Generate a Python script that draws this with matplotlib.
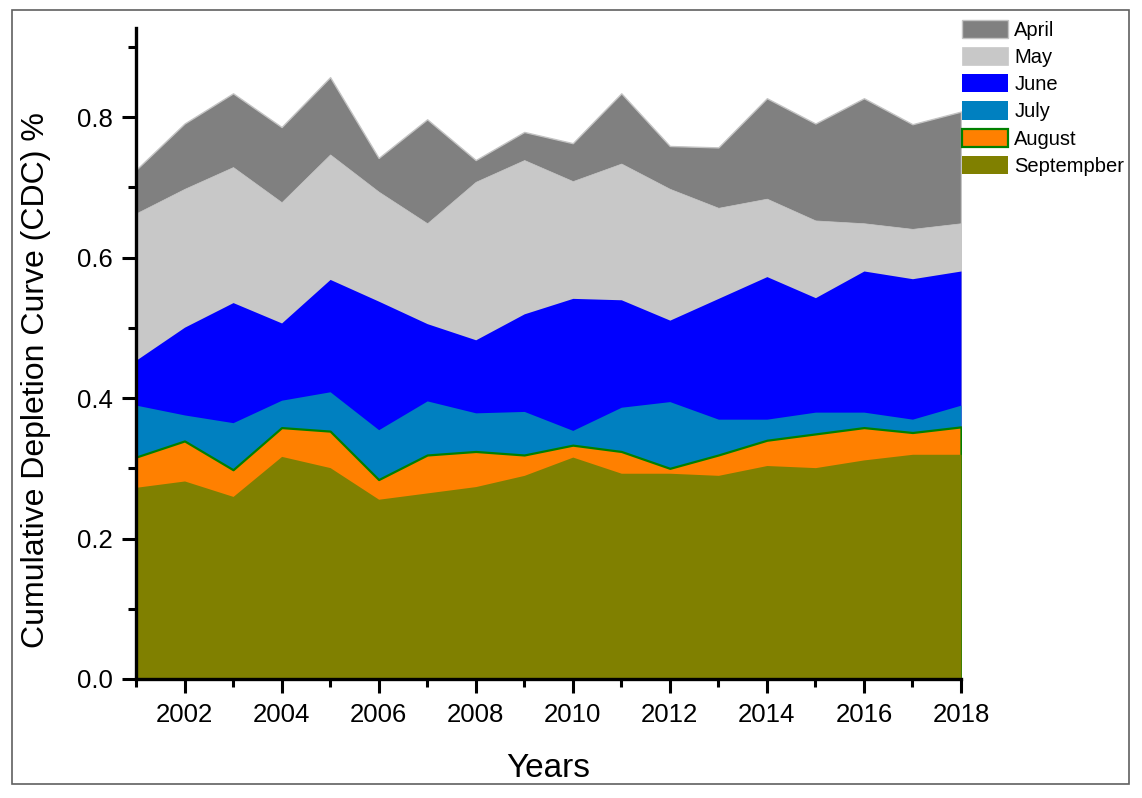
import matplotlib
matplotlib.use("Agg")
import matplotlib.pyplot as plt
from matplotlib.patches import Rectangle
from matplotlib.ticker import MultipleLocator, FixedLocator

# ---- data (cumulative curve tops) ----
years = list(range(2001, 2019))
april = [0.725, 0.791, 0.834, 0.786, 0.857, 0.742, 0.797, 0.739, 0.779,
         0.763, 0.834, 0.759, 0.757, 0.827, 0.791, 0.827, 0.790, 0.808]
may = [0.663, 0.698, 0.729, 0.679, 0.747, 0.694, 0.649, 0.708, 0.739,
       0.709, 0.734, 0.698, 0.671, 0.684, 0.653, 0.649, 0.641, 0.649]
june = [0.454, 0.501, 0.536, 0.507, 0.569, 0.538, 0.506, 0.483, 0.520,
        0.542, 0.540, 0.511, 0.542, 0.573, 0.543, 0.581, 0.570, 0.581]
july = [0.390, 0.376, 0.365, 0.397, 0.409, 0.355, 0.396, 0.379, 0.381,
        0.354, 0.387, 0.395, 0.370, 0.370, 0.380, 0.380, 0.370, 0.390]
august = [0.316, 0.339, 0.298, 0.358, 0.353, 0.284, 0.319, 0.324, 0.319,
          0.333, 0.324, 0.300, 0.319, 0.340, 0.349, 0.358, 0.351, 0.359]
september = [0.273, 0.282, 0.260, 0.317, 0.301, 0.256, 0.265, 0.274, 0.290,
             0.316, 0.293, 0.293, 0.290, 0.304, 0.301, 0.312, 0.320, 0.320]

labels = ["April", "May", "June", "July", "August", "Septempber"]
series = [april, may, june, july, august, september]
colors = ["#808080", "#c8c8c8", "#0000ff", "#0080c0", "#ff8000", "#808000"]
edges = ["#c4c4c4", "#c8c8c8", "#0000ff", "#0080c0", "#008000", "#8a8a10"]
edge_w = [1.0, 0.5, 0.0, 0.0, 1.6, 0.0]

x_major = [2002, 2004, 2006, 2008, 2010, 2012, 2014, 2016, 2018]
x_minor = [2001, 2003, 2005, 2007, 2009, 2011, 2013, 2015, 2017]

plt.rcParams["font.family"] = ["Liberation Sans", "DejaVu Sans"]

W, H = 1142, 798
fig = plt.figure(figsize=(W / 100, H / 100), dpi=100)
fig.patch.set_facecolor("white")

# axes placement in pixels: left 136, right 961, bottom 679, top 28
ax = fig.add_axes([136 / W, 1 - 679 / H, (961 - 136) / W, (679 - 28) / H])

for lab, vals, fc, ec, lw in zip(labels, series, colors, edges, edge_w):
    ax.fill_between(years, 0, vals, facecolor=fc, edgecolor=ec,
                    linewidth=lw, label=lab, zorder=2)

ax.set_xlim(2001, 2018)
ax.set_ylim(0, 0.927)

ax.xaxis.set_major_locator(FixedLocator(x_major))
ax.xaxis.set_minor_locator(FixedLocator(x_minor))
ax.yaxis.set_major_locator(MultipleLocator(0.2))
ax.yaxis.set_minor_locator(MultipleLocator(0.1))
ax.yaxis.set_major_formatter(plt.FuncFormatter(lambda v, p: f"{v:.1f}"))

for s in ["top", "right"]:
    ax.spines[s].set_visible(False)
for s in ["left", "bottom"]:
    ax.spines[s].set_linewidth(2.4)
    ax.spines[s].set_zorder(5)

ax.tick_params(axis="both", which="major", direction="out", length=10,
               width=2.2, labelsize=18.5, colors="black")
ax.tick_params(axis="both", which="minor", direction="out", length=5.5,
               width=2.2)
ax.tick_params(axis="x", which="major", pad=7)
ax.tick_params(axis="y", which="major", pad=7)

fig.text(548 / W, 1 - 777 / H, "Years", fontsize=24, ha="center",
         va="baseline")
fig.text(44 / W, 1 - 380 / H, "Cumulative Depletion Curve (CDC) %",
         fontsize=23, rotation=90, rotation_mode="anchor",
         ha="center", va="baseline")

leg = fig.legend(loc="upper left", bbox_to_anchor=(962 / W, 1 - 20 / H),
                 frameon=False, fontsize=14.5, borderpad=0,
                 borderaxespad=0, handlelength=2.3, handleheight=1.0,
                 labelspacing=0.36, handletextpad=0.3)

# thin frame around the whole picture
fig.add_artist(Rectangle((12 / W, 1 - 784 / H), (1129 - 12) / W,
                         (784 - 10) / H, transform=fig.transFigure,
                         fill=False, edgecolor="#606060", linewidth=1.2))

fig.savefig("out.png", dpi=100)
